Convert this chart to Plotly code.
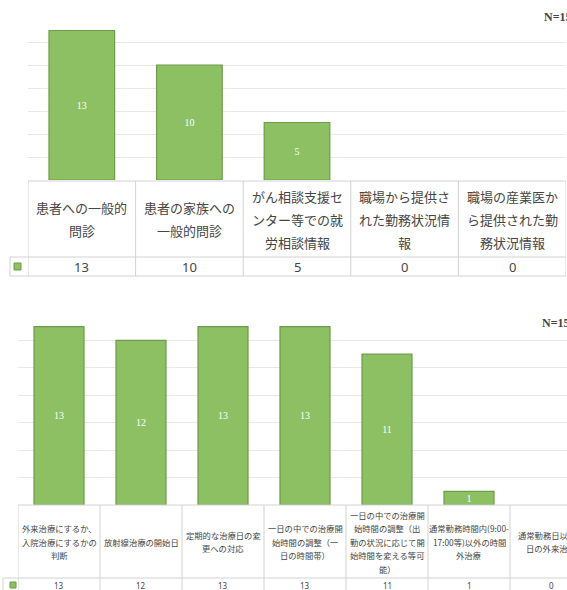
import plotly.graph_objects as go

# ---------------- data ----------------
top_categories = [
    "患者への一般的\n問診",
    "患者の家族への\n一般的問診",
    "がん相談支援セ\nンター等での就\n労相談情報",
    "職場から提供さ\nれた勤務状況情\n報",
    "職場の産業医か\nら提供された勤\n務状況情報",
]
top_values = [13, 10, 5, 0, 0]
top_n_label = "N=15"

bottom_categories = [
    "外来治療にするか、\n入院治療にするかの\n判断",
    "放射線治療の開始日",
    "定期的な治療日の変\n更への対応",
    "一日の中での治療開\n始時間の調整（一\n日の時間帯）",
    "一日の中での治療開\n始時間の調整（出\n勤の状況に応じて開\n始時間を変える等可\n能）",
    "通常勤務時間内(9:00-\n17:00等)以外の時間\n外治療",
    "通常勤務日以外の\n日の外来治療",
]
bottom_values = [13, 12, 13, 13, 11, 1, 0]
bottom_n_label = "N=15"

# ---------------- styling ----------------
W, H = 567, 590
GREEN = "#8cc063"
GREEN_EDGE = "#6e9c4a"
GRID = "#e8e8e8"
BORDER = "#d2d2d2"
TXT = "#454545"
CJK = "Noto Sans CJK JP"


def py(p):
    return 1 - p / H


fig = go.Figure()


def bar_trace(vals, xa, ya):
    return go.Bar(
        x=list(range(len(vals))), y=vals, xaxis=xa, yaxis=ya,
        text=[str(v) if v else "" for v in vals],
        textposition="inside", insidetextanchor="middle", constraintext="none",
        textangle=0,
        textfont=dict(family="Liberation Serif", size=10, color="white"),
        marker=dict(color=GREEN,
                    line=dict(color=GREEN_EDGE, width=[1.2 if v else 0 for v in vals])),
        showlegend=False, hoverinfo="skip",
    )


fig.add_trace(bar_trace(top_values, "x", "y"))
fig.add_trace(bar_trace(bottom_values, "x2", "y2"))

# axes
top_left, top_right = 28, 566
bot_left, bot_colw = 18, 82
common_x = dict(showgrid=False, zeroline=False, showline=False,
                showticklabels=False, ticks="", fixedrange=True)
common_y = dict(showgrid=True, gridcolor=GRID, gridwidth=1, zeroline=False,
                showline=False, showticklabels=False, ticks="",
                range=[0, 14], dtick=2, fixedrange=True)

layout = dict(
    width=W, height=H, margin=dict(l=0, r=0, t=0, b=0),
    paper_bgcolor="white", plot_bgcolor="white", bargap=0.39,
    xaxis=dict(domain=[top_left / W, top_right / W],
               range=[-0.5, len(top_values) - 0.5], anchor="y", **common_x),
    yaxis=dict(domain=[py(180), py(19)], anchor="x", **common_y),
    xaxis2=dict(domain=[bot_left / W, 1],
                range=[-0.5, -0.5 + (W - bot_left) / bot_colw], anchor="y2", **common_x),
    yaxis2=dict(domain=[py(505), py(313)], anchor="x2", **common_y),
)
fig.update_layout(**layout)

shapes = []
annotations = []


def table(categories, values, xref, top, mid, bottom, left_px, right_px,
          key_box, hdr_size, hdr_spacing, val_size):
    # horizontal lines
    shapes.append(dict(type="line", xref="paper", yref="paper",
                       x0=left_px / W, x1=right_px / W, y0=py(top), y1=py(top),
                       line=dict(color=BORDER, width=1)))
    for yy in (mid, bottom):
        shapes.append(dict(type="line", xref="paper", yref="paper",
                           x0=key_box[0] / W, x1=right_px / W, y0=py(yy), y1=py(yy),
                           line=dict(color=BORDER, width=1)))
    # key cell left border
    shapes.append(dict(type="line", xref="paper", yref="paper",
                       x0=key_box[0] / W, x1=key_box[0] / W, y0=py(mid), y1=py(bottom),
                       line=dict(color=BORDER, width=1)))
    # vertical column borders
    for i in range(len(categories) + 1):
        shapes.append(dict(type="line", xref=xref, yref="paper",
                           x0=i - 0.5, x1=i - 0.5, y0=py(top), y1=py(bottom),
                           line=dict(color=BORDER, width=1)))
    # legend key
    kx0, kx1, ky0, ky1 = key_box[1:]
    shapes.append(dict(type="rect", xref="paper", yref="paper",
                       x0=kx0 / W, x1=kx1 / W, y0=py(ky1), y1=py(ky0),
                       fillcolor=GREEN, line=dict(color=GREEN_EDGE, width=1)))
    hc = (top + mid) / 2
    vc = (mid + bottom) / 2
    for i, (cat, v) in enumerate(zip(categories, values)):
        lines = cat.split("\n")
        n = len(lines)
        for j, ln in enumerate(lines):
            annotations.append(dict(
                x=i, xref=xref, y=py(hc), yref="paper", showarrow=False,
                xanchor="center", yanchor="middle",
                yshift=((n - 1) / 2 - j) * hdr_spacing, text=ln,
                font=dict(family=CJK, size=hdr_size, color=TXT)))
        annotations.append(dict(
            x=i, xref=xref, y=py(vc), yref="paper", showarrow=False,
            xanchor="center", yanchor="middle", text=str(v),
            font=dict(family="Noto Sans", size=val_size, color=TXT)))


table(top_categories, top_values, "x", 181, 257, 276, top_left, top_right,
      (10, 14, 21, 263, 270), 13, 23, 13)
table(bottom_categories, bottom_values, "x2", 505, 578, 592, bot_left, W,
      (3, 10, 16, 582, 588), 8.3, 13.5, 8)

annotations.append(dict(x=542 / W, xref="paper", y=py(17), yref="paper",
                        xanchor="left", yanchor="middle", showarrow=False,
                        text="<b>" + top_n_label + "</b>",
                        font=dict(family="Liberation Serif", size=12, color="#444")))
annotations.append(dict(x=540 / W, xref="paper", y=py(323), yref="paper",
                        xanchor="left", yanchor="middle", showarrow=False,
                        text="<b>" + bottom_n_label + "</b>",
                        font=dict(family="Liberation Serif", size=12, color="#444")))

fig.update_layout(shapes=shapes, annotations=annotations)
fig.write_html("out.html", config={"displayModeBar": False})
